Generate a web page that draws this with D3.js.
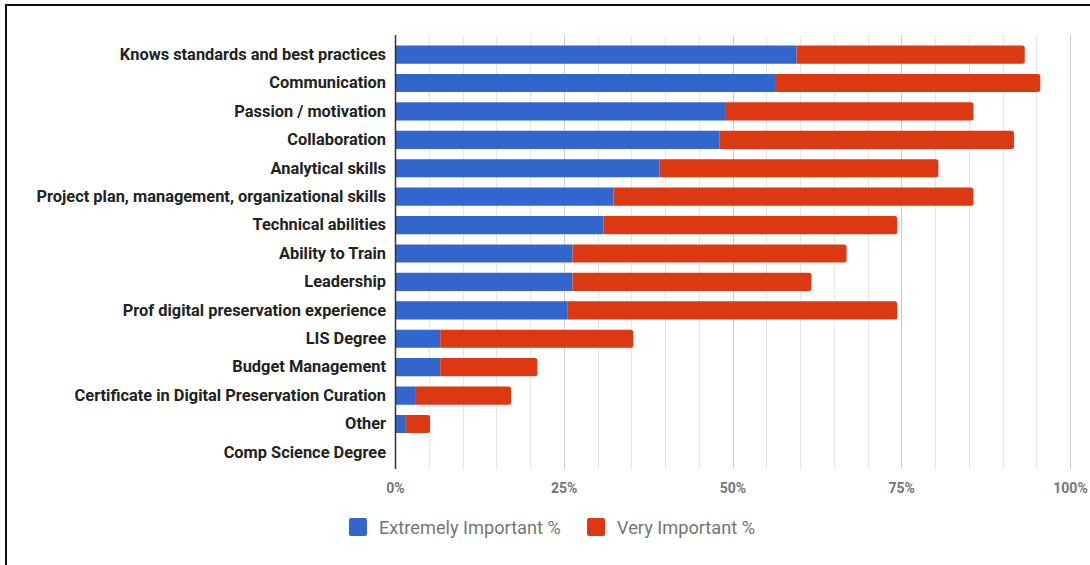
<!DOCTYPE html>
<html><head><meta charset="utf-8">
<script src="https://cdn.jsdelivr.net/npm/d3@7"></script>
<style>body{margin:0;background:#fff}svg{display:block}</style>
</head><body>
<svg id="c" width="1090" height="565"></svg>
<script>
const categories = ["Knows standards and best practices","Communication","Passion / motivation","Collaboration","Analytical skills","Project plan, management, organizational skills","Technical abilities","Ability to Train","Leadership","Prof digital preservation experience","LIS Degree","Budget Management","Certificate in Digital Preservation Curation","Other","Comp Science Degree"];
const extremely = [59.5,56.3,48.9,48.1,39.2,32.4,30.9,26.3,26.3,25.6,6.7,6.7,3.1,1.5,0];
const very = [33.8,39.3,36.8,43.6,41.3,53.3,43.5,40.6,35.4,48.8,28.6,14.4,14.1,3.7,0];
const seriesNames = ["Extremely Important %","Very Important %"];
const colors = ["#3366cc","#dc3912"];
const tickValues = [0,25,50,75,100];
const gridValues = d3.range(0,101,5);

const svg = d3.select("#c");
const x = d3.scaleLinear().domain([0,100]).range([395,1070]);
const y = d3.scaleBand().domain(categories).range([37,470]).paddingInner(0.36).paddingOuter(0.3);

// border
svg.append("line").attr("x1",5).attr("x2",1090).attr("y1",5).attr("y2",5).attr("stroke","#111").attr("stroke-width",2);
svg.append("line").attr("x1",6).attr("x2",6).attr("y1",4).attr("y2",565).attr("stroke","#111").attr("stroke-width",2);

// grid
svg.append("g").selectAll("line").data(gridValues.filter(d=>d>0)).join("line")
  .attr("x1",d=>Math.round(x(d))+0.5).attr("x2",d=>Math.round(x(d))+0.5)
  .attr("y1",35).attr("y2",469)
  .attr("stroke",d=>d%25===0?"#cccccc":"#e6e6e6").attr("stroke-width",1);

const data = categories.map((c,i)=>({cat:c, e:extremely[i], v:very[i]}));
const stack = d3.stack().keys(["e","v"])(data);

const g = svg.append("g");
stack.forEach((s,si)=>{
  g.selectAll(null).data(s).join("path")
    .attr("fill",colors[si])
    .attr("d",d=>{
      const x0=x(d[0]), x1=x(d[1]), yy=y(d.data.cat), h=y.bandwidth();
      if (x1-x0<=0) return "";
      const last = si===1 || d.data.v===0;
      const r = last?Math.min(2.5,(x1-x0)/2):0;
      return `M${x0},${yy}H${x1-r}Q${x1},${yy} ${x1},${yy+r}V${yy+h-r}Q${x1},${yy+h} ${x1-r},${yy+h}H${x0}Z`;
    });
});

// axis line at 0
svg.append("line").attr("x1",395.5).attr("x2",395.5).attr("y1",35).attr("y2",469).attr("stroke","#333").attr("stroke-width",1.5);

// category labels
const yAxis = d3.axisLeft(y).tickSize(0).tickPadding(9);
const ya = svg.append("g").attr("transform","translate(395,0)").call(yAxis);
ya.select(".domain").remove();
ya.selectAll("text").attr("font-family","Roboto").attr("font-weight","bold").attr("font-size","16.4px").attr("fill","#222");

// x tick labels
const xAxis = d3.axisBottom(x).tickValues(tickValues).tickSize(0).tickPadding(0).tickFormat(d=>d+"%");
const xa = svg.append("g").attr("transform","translate(0,483)").call(xAxis);
xa.select(".domain").remove();
xa.selectAll("text").attr("font-family","Roboto").attr("font-weight","bold").attr("font-size","14px").attr("fill","#757575");

// legend
const legX = [349,587];
seriesNames.forEach((n,i)=>{
  svg.append("rect").attr("x",legX[i]).attr("y",518).attr("width",18).attr("height",18).attr("rx",2).attr("fill",colors[i]);
  svg.append("text").attr("x",legX[i]+30).attr("y",534).text(n)
    .attr("font-family","Roboto").attr("font-size","18.2px").attr("fill","#757575");
});
</script>
</body></html>
